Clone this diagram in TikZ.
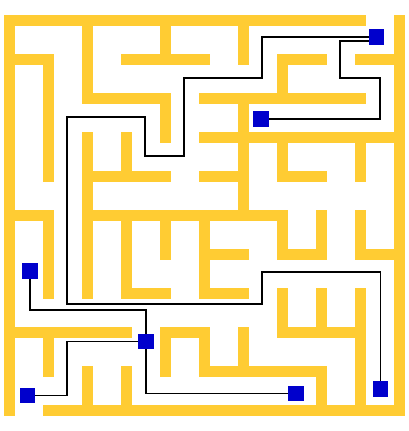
\documentclass[tikz,border=0pt]{standalone}
\usepackage{tikz}
\definecolor{mazeyellow}{RGB}{255,204,51}
\definecolor{mazeblue}{RGB}{0,0,204}

\begin{document}
\begin{tikzpicture}[
    x=1pt, y=-1pt,
    wall/.style={draw=mazeyellow, line width=11pt, line cap=rect},
    marker/.style={fill=mazeblue, draw=none, minimum size=15.5pt, inner sep=0pt},
    route/.style={draw, line width=1.4pt}
]
\useasboundingbox (0,0) rectangle (409,431);

\begin{scope}[shift={(9.5,20.5)}, x=39pt, y=-39pt]
\draw[wall] (0,0) -- (9,0) (0,0) -- (0,10) (10,0) -- (10,10) (1,10) -- (10,10);
\draw[wall] (0,1) -- (1,1) -- (1,4) (0,5) -- (1,5) -- (1,7);
\draw[wall] (2,0) -- (2,2) -- (4,2) -- (4,3) (4,0) -- (4,1) (3,1) -- (5,1) (6,0) -- (6,1);
\draw[wall] (8,1) -- (7,1) -- (7,2) (9,1) -- (10,1) (5,2) -- (9,2) (6,2) -- (6,5);
\draw[wall] (5,3) -- (10,3) (7,3) -- (7,4) -- (8,4) (9,3) -- (9,4) (5,4) -- (6,4);
\draw[wall] (2,3) -- (2,7) (3,3) -- (3,4) (2,4) -- (4,4) (2,5) -- (7,5);
\draw[wall] (3,5) -- (3,7) -- (4,7) (4,5) -- (4,6) (5,5) -- (5,7) (5,6) -- (6,6) (5,7) -- (6,7);
\draw[wall] (7,5) -- (7,6) -- (8,6) -- (8,5) (9,5) -- (9,6) -- (10,6);
\draw[wall] (0,8) -- (3,8) (1,8) -- (1,9) (2,9) -- (2,10) (3,9) -- (3,10);
\draw[wall] (4,9) -- (4,8) -- (5,8) -- (5,9) -- (8,9) -- (8,10) (6,8) -- (6,9);
\draw[wall] (7,7) -- (7,8) -- (9,8) (8,7) -- (8,8) (9,7) -- (9,10);
\end{scope}

\node[marker] (start) at (376.5,37) {};
\node[marker] (goalA) at (261,119) {};
\node[marker] (goalB) at (380.5,389) {};
\node[marker] (left) at (30,271) {};
\node[marker] (hub) at (146,341.5) {};
\node[marker] (corner) at (27.5,395.5) {};
\node[marker] (bottom) at (296,393.5) {};

\draw[route] (start.west) -- (262,37) -- (262,78) -- (184,78) -- (184,156) -- (145,156) -- (145,117) -- (67,117) -- (67,304) -- (262,304) -- (262,272) -- (380.5,272) -- (goalB.north);
\draw[route] ([yshift=-4pt]start.west) -- (340,41) -- (340,78) -- (380,78) -- (380,119) -- (goalA.east);
\draw[route] (left.south) -- (30,310) -- (146,310) -- (hub.north);
\draw[route] (hub.west) -- (67,341.5) -- (67,395.5) -- (corner.east);
\draw[route] (hub.south) -- (146,393.5) -- (bottom.west);

\end{tikzpicture}
\end{document}
